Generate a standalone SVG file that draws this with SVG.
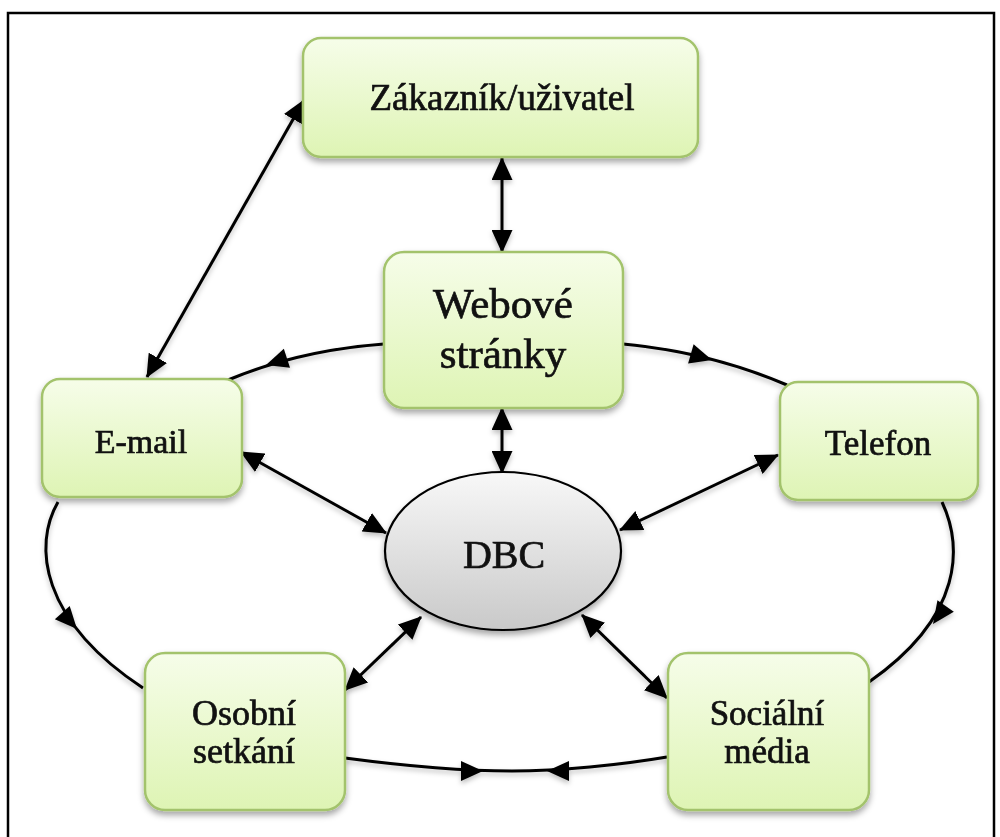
<svg xmlns="http://www.w3.org/2000/svg" xmlns:xlink="http://www.w3.org/1999/xlink" width="1000" height="837" viewBox="0 0 1000 837">
  <defs>
    <linearGradient id="boxFill" x1="0" y1="0" x2="0" y2="1">
      <stop offset="0" stop-color="#f6fde9"/>
      <stop offset="1" stop-color="#def4b4"/>
    </linearGradient>
    <linearGradient id="ovalFill" x1="0" y1="0" x2="0" y2="1">
      <stop offset="0" stop-color="#f8f8f8"/>
      <stop offset="1" stop-color="#c9c9c9"/>
    </linearGradient>
    <filter id="shadow" x="-20%" y="-20%" width="140%" height="150%">
      <feDropShadow dx="0" dy="4" stdDeviation="3" flood-color="#000" flood-opacity="0.35"/>
    </filter>
    <filter id="lineShadow" x="-10%" y="-10%" width="120%" height="130%">
      <feDropShadow dx="0" dy="3" stdDeviation="2.5" flood-color="#000" flood-opacity="0.25"/>
    </filter>
    <marker id="arr" viewBox="0 0 23 21" refX="22" refY="10.5" markerWidth="23" markerHeight="21" markerUnits="userSpaceOnUse" orient="auto-start-reverse">
      <path d="M0,0 L23,10.5 L0,21 Z" fill="#000"/>
    </marker>
    <path id="head" d="M0,0 L-22,-10 L-22,10 Z" fill="#000"/>
    <style>
      .box { fill: url(#boxFill); stroke: #a3c36c; stroke-width: 2.5; filter: url(#shadow); }
      .oval { fill: url(#ovalFill); stroke: #000; stroke-width: 2.2; filter: url(#shadow); }
      .lbl { font-family: "Liberation Serif", "DejaVu Serif", serif; fill: #111; stroke: #111; stroke-width: 0.7; text-anchor: middle; }
      .edge { fill: none; stroke: #000; stroke-width: 3; }
      .both { marker-start: url(#arr); marker-end: url(#arr); }
    </style>
  </defs>

  <!-- frame -->
  <path d="M8,837 V13 H994 V837" fill="none" stroke="#000" stroke-width="2.5"/>

  <!-- connectors -->
  <g id="connectors" filter="url(#lineShadow)">
    <!-- straight two-way links -->
    <line class="edge both" x1="502" y1="158" x2="502" y2="252"/>
    <line class="edge both" x1="304" y1="100" x2="147" y2="377"/>
    <line class="edge both" x1="502" y1="408" x2="502" y2="473"/>
    <line class="edge both" x1="241" y1="452" x2="386" y2="533"/>
    <line class="edge both" x1="778" y1="455" x2="620" y2="530"/>
    <line class="edge both" x1="421" y1="617" x2="345" y2="690"/>
    <line class="edge both" x1="582" y1="615" x2="667" y2="698"/>

    <!-- outer ring -->
    <path class="edge" d="M384,344 Q300,350 228,380"/>
    <use xlink:href="#head" href="#head" transform="translate(266,365) rotate(162)"/>

    <path class="edge" d="M623,344 Q710,352 787,385"/>
    <use xlink:href="#head" href="#head" transform="translate(712,360) rotate(16)"/>

    <path class="edge" d="M942,502 C962,545 965,615 869,682"/>
    <use xlink:href="#head" href="#head" transform="translate(933,624) rotate(125)"/>

    <path class="edge" d="M58,502 C33,545 40,620 143,688"/>
    <use xlink:href="#head" href="#head" transform="translate(77,629) rotate(48)"/>

    <path class="edge" d="M345,758 C420,768 480,771 512,771 C560,771 620,765 667,757"/>
    <use xlink:href="#head" href="#head" transform="translate(483,771) rotate(0)"/>
    <use xlink:href="#head" href="#head" transform="translate(547,771) rotate(180)"/>
  </g>

  <!-- nodes -->
  <g id="zakaznik">
    <rect class="box" x="303" y="38" width="395" height="119" rx="18"/>
    <text class="lbl" x="502" y="110" font-size="37">Zákazník/uživatel</text>
  </g>

  <g id="webove-stranky">
    <rect class="box" x="384" y="252" width="239" height="156" rx="20"/>
    <text class="lbl" x="503" y="318" font-size="43">Webové</text>
    <text class="lbl" x="503" y="368" font-size="43">stránky</text>
  </g>

  <g id="email">
    <rect class="box" x="42" y="379" width="200" height="118" rx="18"/>
    <text class="lbl" x="141" y="453" font-size="34">E-mail</text>
  </g>

  <g id="telefon">
    <rect class="box" x="780" y="382" width="198" height="118" rx="18"/>
    <text class="lbl" x="878" y="455" font-size="35">Telefon</text>
  </g>

  <g id="dbc">
    <ellipse class="oval" cx="503" cy="551" rx="118" ry="79"/>
    <text class="lbl" x="504" y="568" font-size="40">DBC</text>
  </g>

  <g id="osobni-setkani">
    <rect class="box" x="145" y="653" width="200" height="157" rx="20"/>
    <text class="lbl" x="244" y="725" font-size="36">Osobní</text>
    <text class="lbl" x="244" y="763" font-size="36">setkání</text>
  </g>

  <g id="socialni-media">
    <rect class="box" x="668" y="653" width="201" height="157" rx="20"/>
    <text class="lbl" x="767" y="725" font-size="35">Sociální</text>
    <text class="lbl" x="767" y="763" font-size="35">média</text>
  </g>
</svg>
